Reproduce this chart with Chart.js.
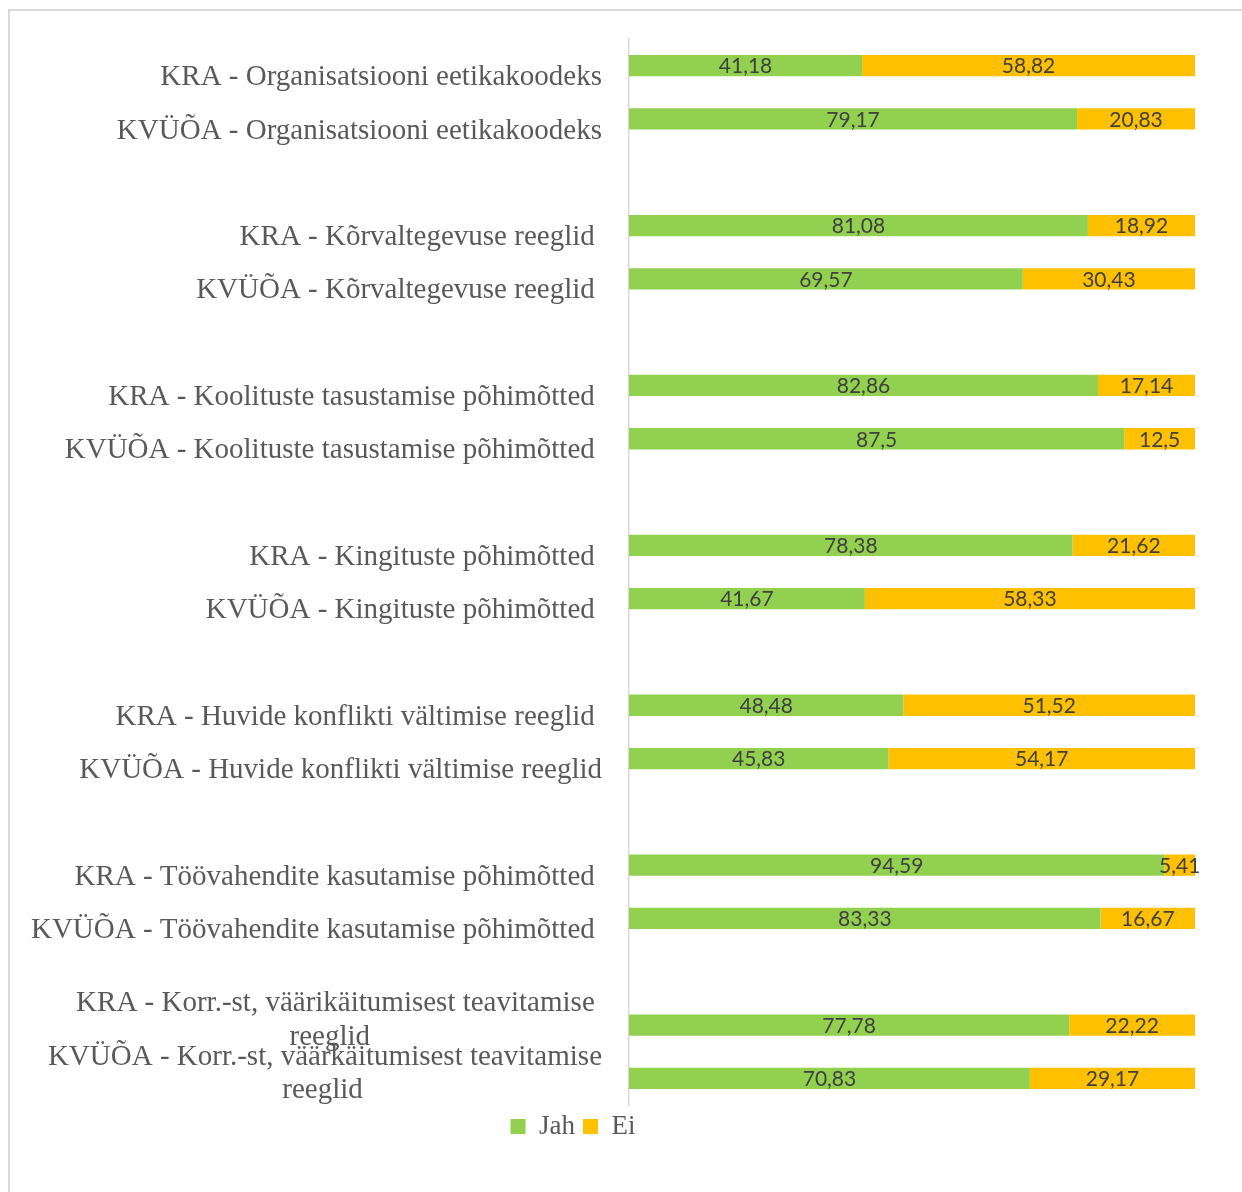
<!DOCTYPE html>
<html>
<head>
<meta charset="utf-8">
<script src="https://cdn.jsdelivr.net/npm/chart.js@4"></script>
<style>
  html, body { margin: 0; padding: 0; background: #ffffff; width: 1242px; height: 1192px; overflow: hidden; }
  #frame { position: absolute; left: 8px; top: 9px; width: 1300px; height: 1300px; border: 2px solid #d9d9d9; box-sizing: border-box; }
  #c { position: absolute; left: -49px; top: 0px; }
</style>
</head>
<body>
<div id="frame"></div>
<canvas id="c" width="1254" height="1192"></canvas>
<script>
const categories = [
  "KRA - Organisatsiooni eetikakoodeks",
  "KVÜÕA - Organisatsiooni eetikakoodeks",
  "",
  "KRA - Kõrvaltegevuse reeglid ",
  "KVÜÕA - Kõrvaltegevuse reeglid ",
  "",
  "KRA - Koolituste tasustamise põhimõtted ",
  "KVÜÕA - Koolituste tasustamise põhimõtted ",
  "",
  "KRA - Kingituste põhimõtted ",
  "KVÜÕA - Kingituste põhimõtted ",
  "",
  "KRA - Huvide konflikti vältimise reeglid ",
  "KVÜÕA - Huvide konflikti vältimise reeglid",
  "",
  "KRA - Töövahendite kasutamise põhimõtted ",
  "KVÜÕA - Töövahendite kasutamise põhimõtted ",
  "",
  ["KRA - Korr.-st, väärikäitumisest teavitamise ", "reeglid                                ", ""],
  ["KVÜÕA - Korr.-st, väärkäitumisest teavitamise", "reeglid                                 ", ""]
];
const jahValues = [41.18, 79.17, null, 81.08, 69.57, null, 82.86, 87.5, null, 78.38, 41.67, null, 48.48, 45.83, null, 94.59, 83.33, null, 77.78, 70.83];
const eiValues  = [58.82, 20.83, null, 18.92, 30.43, null, 17.14, 12.5, null, 21.62, 58.33, null, 51.52, 54.17, null, 5.41, 16.67, null, 22.22, 29.17];
const seriesNames = ["Jah", "Ei"];
const seriesColors = ["#92D050", "#FFC000"];

const dataLabelPlugin = {
  id: 'dataLabels',
  afterDatasetsDraw(chart) {
    const ctx = chart.ctx;
    ctx.save();
    ctx.font = '21px Lato, "Open Sans", sans-serif';
    ctx.fillStyle = '#404040';
    ctx.textAlign = 'center';
    ctx.textBaseline = 'middle';
    chart.data.datasets.forEach((ds, di) => {
      const meta = chart.getDatasetMeta(di);
      meta.data.forEach((el, i) => {
        const v = ds.data[i];
        if (v === null || v === undefined) return;
        const p = el.getCenterPoint();
        ctx.fillText(String(v).replace('.', ','), p.x, p.y + 1);
      });
    });
    ctx.restore();
  }
};

new Chart(document.getElementById('c'), {
  type: 'bar',
  data: {
    labels: categories,
    datasets: [
      { label: seriesNames[0], data: jahValues, backgroundColor: seriesColors[0], borderWidth: 0, categoryPercentage: 1, barPercentage: 0.4 },
      { label: seriesNames[1], data: eiValues, backgroundColor: seriesColors[1], borderWidth: 0, categoryPercentage: 1, barPercentage: 0.4 }
    ]
  },
  options: {
    indexAxis: 'y',
    responsive: false,
    animation: false,
    layout: { padding: { top: 39, right: 10, left: 0, bottom: 42 } },
    scales: {
      x: { stacked: true, min: 0, max: 100, display: false },
      y: {
        stacked: true,
        grid: { display: false },
        border: { display: true, color: '#d9d9d9', width: 1.5 },
        ticks: {
          padding: 19,
          labelOffset: 12,
          color: '#595959',
          font: { family: '"Liberation Serif", "Times New Roman", serif', size: 29, lineHeight: 1.15 },
          autoSkip: false
        },
        afterFit(scale) { scale.width = 678; scale.paddingTop = 0; scale.paddingBottom = 0; }
      }
    },
    plugins: {
      legend: {
        position: 'bottom',
        labels: {
          boxWidth: 15,
          boxHeight: 15,
          padding: 8,
          color: '#595959',
          font: { family: '"Liberation Serif", "Times New Roman", serif', size: 27, lineHeight: 1 }
        }
      },
      tooltip: { enabled: false }
    }
  },
  plugins: [dataLabelPlugin]
});
</script>
</body>
</html>
